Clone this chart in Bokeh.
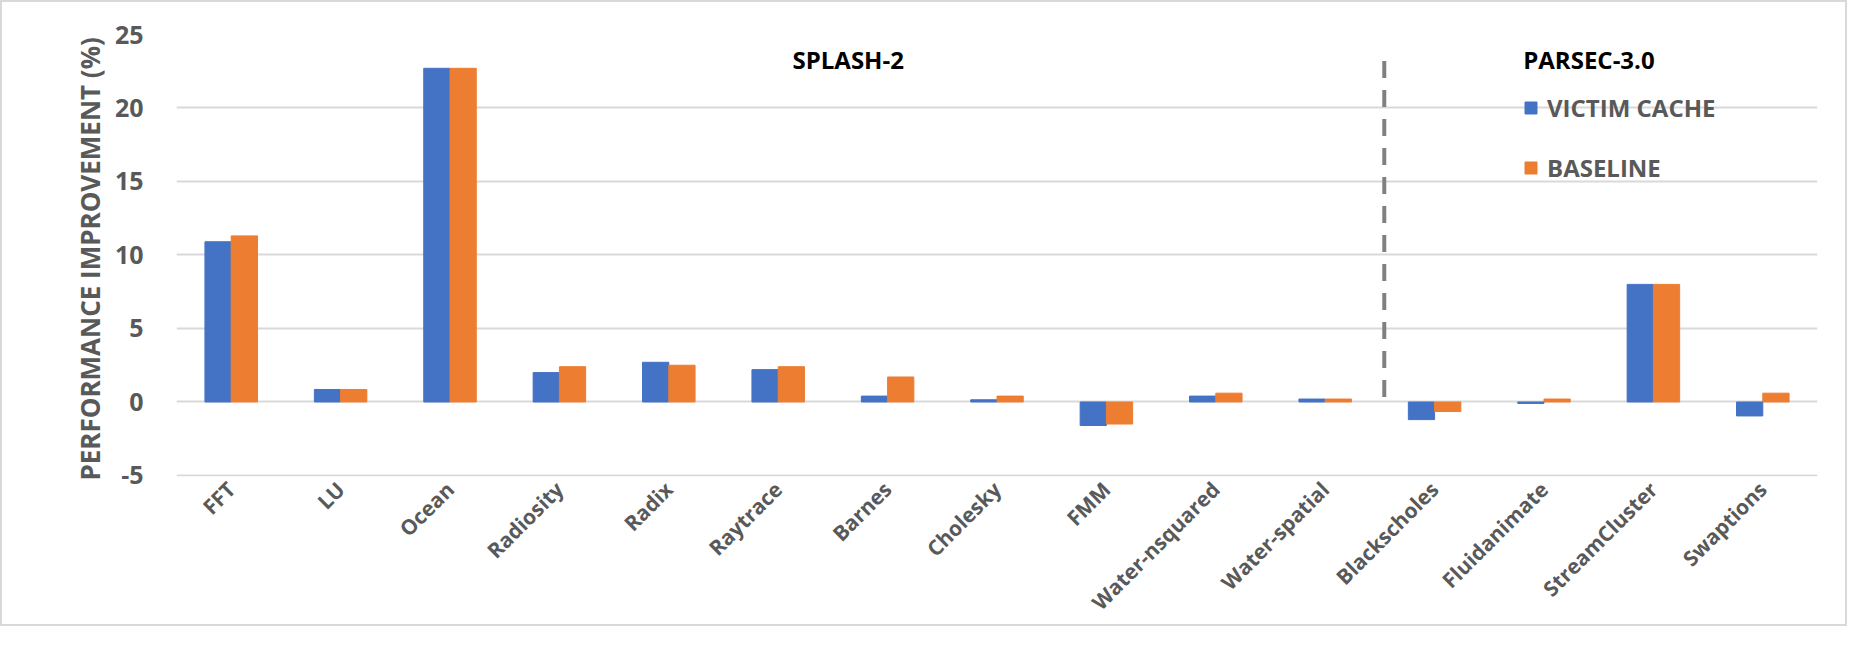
import math
from bokeh.plotting import figure
from bokeh.models import (FactorRange, Range1d, FixedTicker, Label, Legend, LegendItem,
                          ColumnDataSource)
from bokeh.transform import dodge
from bokeh.embed import file_html
from bokeh.resources import INLINE

categories = ["FFT", "LU", "Ocean", "Radiosity", "Radix", "Raytrace", "Barnes",
              "Cholesky", "FMM", "Water-nsquared", "Water-spatial",
              "Blackscholes", "Fluidanimate", "StreamCluster", "Swaptions"]
victim_cache = [10.9, 0.85, 22.7, 2.0, 2.7, 2.2, 0.4, 0.15, -1.6, 0.4, 0.2, -1.2, -0.1, 8.0, -0.95]
baseline = [11.3, 0.85, 22.7, 2.4, 2.5, 2.4, 1.7, 0.4, -1.5, 0.6, 0.2, -0.65, 0.2, 8.0, 0.6]
series_names = ["VICTIM CACHE", "BASELINE"]
y_ticks = [-5, 0, 5, 10, 15, 20, 25]
group_names = ["SPLASH-2", "PARSEC-3.0"]
splash_count = 11

FONT = "Open Sans"
GRAY = "#595959"
BLUE = "#4472C4"
ORANGE = "#ED7D31"

y_min, y_max = y_ticks[0], y_ticks[-1]

source = ColumnDataSource(dict(cat=categories, vc=victim_cache, bl=baseline))

p = figure(x_range=FactorRange(*categories), y_range=Range1d(y_min - 0.07, y_max),
           width=1847, height=626, output_backend="svg", toolbar_location=None,
           title=None,
           min_border_left=174, min_border_right=32, min_border_top=32, min_border_bottom=141)
p.styles = {"border": "2px solid #d9d9d9"}
p.outline_line_color = None
p.background_fill_color = "white"
p.border_fill_color = "white"

r1 = p.vbar(x=dodge("cat", -0.12, range=p.x_range), top="vc", bottom=0, width=0.24,
            fill_color=BLUE, line_color=BLUE, source=source)
r2 = p.vbar(x=dodge("cat", 0.12, range=p.x_range), top="bl", bottom=0, width=0.24,
            fill_color=ORANGE, line_color=ORANGE, source=source)

# separator between benchmark suites
split = splash_count + 0.04
p.segment(x0=[split], y0=[23.2], x1=[split], y1=[-0.27], line_color="#808080",
          line_width=4, line_dash="17 12")

p.xgrid.visible = False
p.ygrid.grid_line_color = "#d9d9d9"
p.ygrid.grid_line_width = 2
p.yaxis.ticker = FixedTicker(ticks=y_ticks)
p.ygrid.ticker = FixedTicker(ticks=y_ticks)
p.yaxis.major_label_overrides = {t: str(t) for t in y_ticks}

for ax in (p.xaxis[0], p.yaxis[0]):
    ax.axis_line_color = None
    ax.major_tick_line_color = None
    ax.minor_tick_line_color = None
    ax.major_label_text_font = FONT
    ax.major_label_text_font_style = "bold"
    ax.major_label_text_color = GRAY

yax = p.yaxis[0]
yax.major_label_text_font_size = "25px"
yax.major_label_standoff = 27
yax.axis_label = "PERFORMANCE  IMPROVEMENT (%)"
yax.axis_label_text_font = FONT
yax.axis_label_text_font_size = "26px"
yax.axis_label_text_font_style = "bold"
yax.axis_label_text_color = GRAY
yax.axis_label_standoff = 4

p.xaxis.major_label_orientation = math.pi / 4
p.xaxis.major_label_text_font_size = "21px"
p.xaxis.major_label_standoff = 3

p.add_layout(Label(x=6.14, y=23.3, text=group_names[0], text_align="center", text_baseline="middle",
                   text_font=FONT, text_font_size="24px", text_font_style="bold", text_color="black"))
p.add_layout(Label(x=12.31, y=23.3, text=group_names[1], text_align="left", text_baseline="middle",
                   text_font=FONT, text_font_size="24px", text_font_style="bold", text_color="black"))

legend = Legend(items=[LegendItem(label=series_names[0], renderers=[r1]),
                       LegendItem(label=series_names[1], renderers=[r2])],
                location=(1347, 292))
legend.label_text_font = FONT
legend.label_text_font_size = "24px"
legend.label_text_font_style = "bold"
legend.label_text_color = GRAY
legend.glyph_width = 15
legend.glyph_height = 15
legend.label_height = 20
legend.label_standoff = 9
legend.spacing = 27
legend.padding = 0
legend.margin = 0
legend.border_line_color = None
legend.background_fill_alpha = 0
p.add_layout(legend)

open("out.html", "w").write(file_html(p, INLINE))
